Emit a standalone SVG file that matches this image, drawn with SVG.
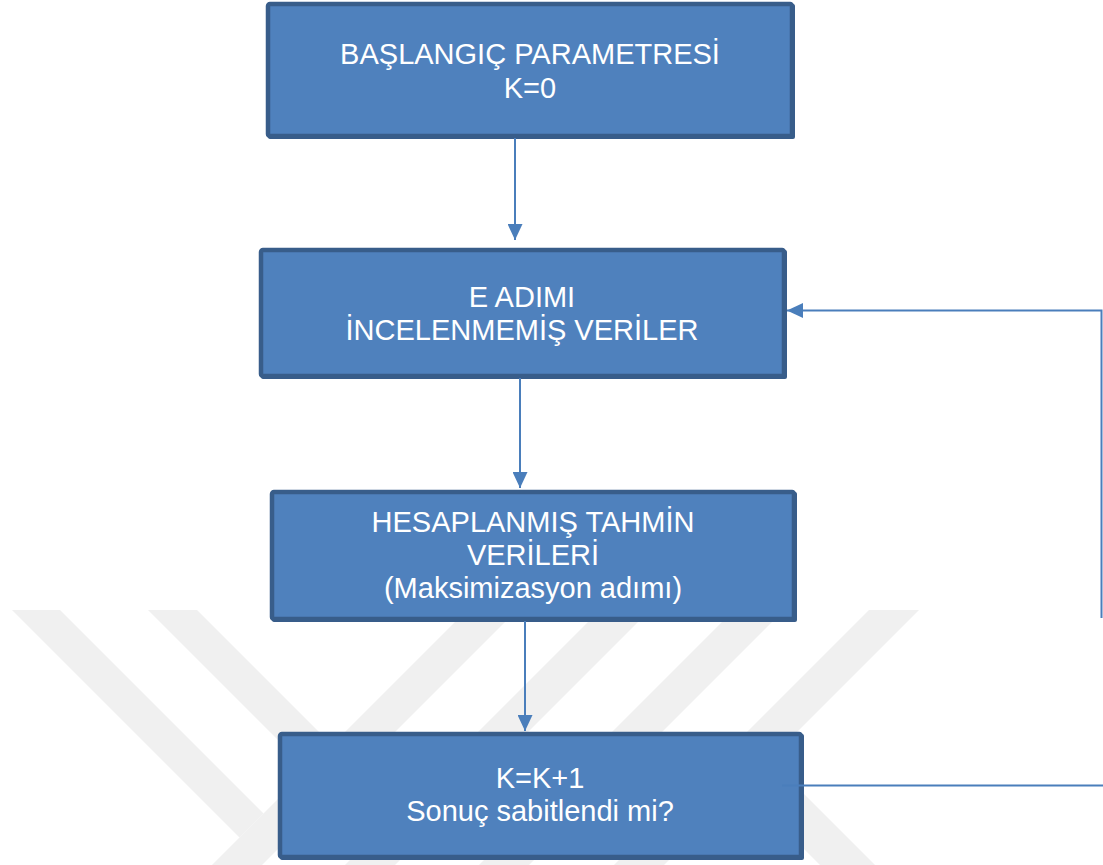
<svg xmlns="http://www.w3.org/2000/svg" width="1103" height="865" viewBox="0 0 1103 865">
<style>
.wm{fill:#F0F0F0;stroke:none}
.box{fill:#4F81BD;stroke:#385D8A;stroke-width:4.5}
.shd{fill:#385D8A;stroke:none}
.lbl{font-family:"Liberation Sans",Arial,sans-serif;font-size:29px;fill:#FFFFFF;text-anchor:middle}
.conn{fill:none;stroke:#4A7EBB;stroke-width:2}
</style>
<defs>
<marker id="ah" markerUnits="userSpaceOnUse" markerWidth="16" markerHeight="15" refX="16" refY="7.5" orient="auto">
<path d="M0,0 L16,7.5 L0,15 Z" fill="#4A7EBB"/>
</marker>
<clipPath id="wmclip"><rect x="0" y="610" width="1103" height="255"/></clipPath>
</defs>
<rect width="1103" height="865" fill="#FFFFFF"/>
<g id="watermark" clip-path="url(#wmclip)">
<polygon class="wm" points="12,610 60,610 263.5,813.5 239.5,837.5"/>
<polygon class="wm" points="148,610 197,610 380,793 331,793"/>
<polygon class="wm" points="467,610 517,610 262,865 212,865"/>
<polygon class="wm" points="600,610 650,610 395,865 345,865"/>
<polygon class="wm" points="734,610 784,610 529,865 479,865"/>
<polygon class="wm" points="869,610 919,610 664,865 614,865"/>
<polygon class="wm" points="695,740 750,740 875,865 820,865"/>
</g>
<g id="node1">
<rect class="shd" x="268" y="4" width="527" height="135" rx="2"/>
<rect class="box" x="268" y="4" width="524" height="132" rx="2"/>
<text class="lbl" x="530" y="64">BAŞLANGIÇ PARAMETRESİ</text>
<text class="lbl" x="530" y="98">K=0</text>
</g>
<g id="node2">
<rect class="shd" x="261" y="250" width="526" height="129" rx="2"/>
<rect class="box" x="261" y="250" width="523" height="126" rx="2"/>
<text class="lbl" x="522" y="307">E ADIMI</text>
<text class="lbl" x="522" y="340">İNCELENMEMİŞ VERİLER</text>
</g>
<g id="node3">
<rect class="shd" x="272" y="492" width="525" height="130" rx="2"/>
<rect class="box" x="272" y="492" width="522" height="127" rx="2"/>
<text class="lbl" x="533" y="532">HESAPLANMIŞ TAHMİN</text>
<text class="lbl" x="533" y="565">VERİLERİ</text>
<text class="lbl" x="533" y="598">(Maksimizasyon adımı)</text>
</g>
<g id="node4">
<rect class="shd" x="280" y="734" width="524" height="126" rx="2"/>
<rect class="box" x="280" y="734" width="521" height="123" rx="2"/>
<text class="lbl" x="540" y="788">K=K+1</text>
<text class="lbl" x="540" y="821">Sonuç sabitlendi mi?</text>
</g>
<g id="connectors">
<path class="conn" d="M515,138 L515,240" marker-end="url(#ah)"/>
<path class="conn" d="M520,378 L520,488" marker-end="url(#ah)"/>
<path class="conn" d="M525,621 L525,731" marker-end="url(#ah)"/>
<path class="conn" d="M782,785.5 L1103,785.5"/>
<path class="conn" d="M1101.5,618 L1101.5,310.5 L787,310.5" marker-end="url(#ah)"/>
</g>
</svg>
